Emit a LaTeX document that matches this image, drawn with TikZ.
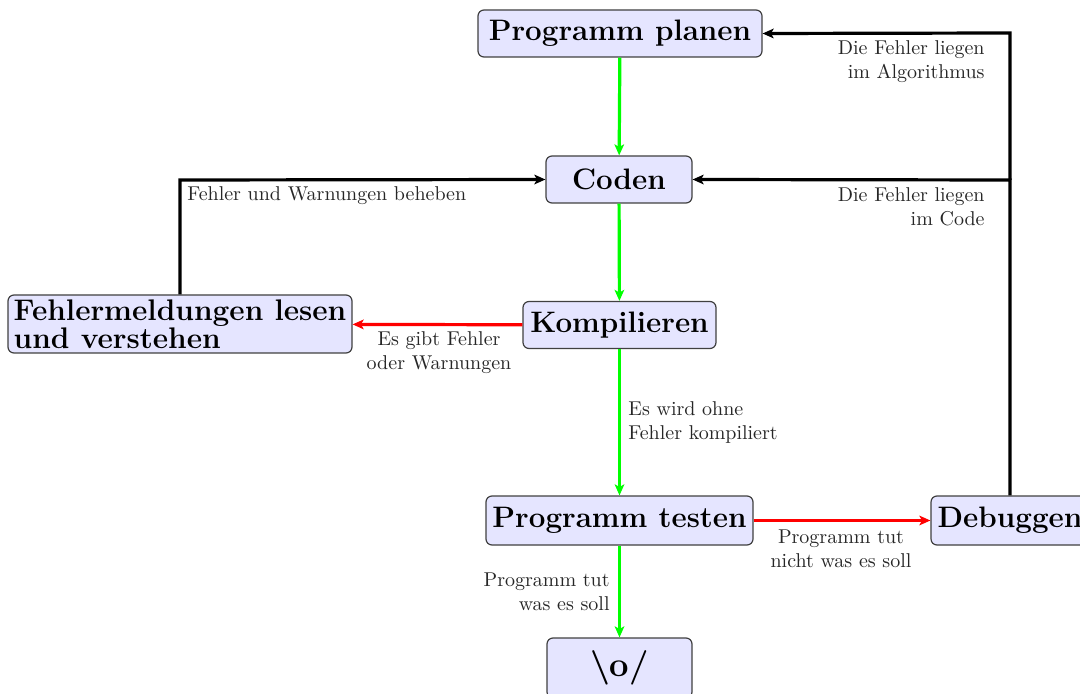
\documentclass[tikz,border=0pt]{standalone}
\usetikzlibrary{arrows.meta}
\begin{document}
\begin{tikzpicture}[x=0.5pt,y=-0.5pt,
  box/.style={draw=black!75, fill=blue!10, rounded corners=3pt, line width=0.6pt,
    font=\fontsize{14.8pt}{18pt}\selectfont\bfseries, minimum height=23.5pt, inner xsep=3pt, inner ysep=2pt},
  conn/.style={line width=1.6pt, -{Stealth[length=5.5pt,width=4.8pt,inset=1.3pt]}},
  ok/.style={conn, draw=green},
  bad/.style={conn, draw=red},
  back/.style={conn, draw=black},
  lbl/.style={font=\normalsize, text=black!85, inner sep=0pt}]
\useasboundingbox (0,0) rectangle (1080,694);
\node[box, minimum width=142pt] (plan) at (620,33.5) {Programm planen};
\node[box, minimum width=73pt] (code) at (619,179.5) {Coden};
\node[box, minimum width=96.5pt] (komp) at (619.5,325) {Kompilieren};
\node[box, minimum width=172pt, minimum height=29pt, align=left, inner xsep=1.5pt, inner ysep=1pt,
  font=\fontsize{14.9pt}{18pt}\selectfont\bfseries] (fehl) at (180,324) {Fehlermeldungen lesen\\[-4pt]und verstehen};
\node[box, minimum width=133.5pt, minimum height=24.5pt] (test) at (619.5,520.5) {Programm testen};
\node[box, minimum width=79pt, minimum height=24.5pt] (debug) at (1010,520.5) {Debuggen};
\node[box, minimum width=72.5pt, minimum height=30pt, font=\LARGE\bfseries, inner ysep=1pt] (yay) at (619.5,668) {\textbackslash o/};

\coordinate (c1) at (180,180);
\coordinate (c2) at (1010,180);
\coordinate (c3) at (1010,33);

\draw[ok] (plan) -- (code);
\draw[ok] (code) -- (komp);
\draw[bad] (komp) -- (fehl);
\draw[back] (fehl.north -| c1) -- (c1) -- (code.west);
\draw[ok] (komp) -- (test);
\draw[bad] (test) -- (debug);
\draw[ok] (test) -- (yay);
\draw[back] (debug.north -| c2) -- (c2) -- (code.east);
\draw[back] (c2) -- (c3) -- (plan.east);

\node[lbl, align=center] (l1) at (439,353) {Es gibt Fehler\\oder Warnungen};
\node[lbl, anchor=west] (l2) at (187,196) {Fehler und Warnungen beheben};
\node[lbl, align=left, anchor=west] (l3) at (628,422) {Es wird ohne\\Fehler kompiliert};
\node[lbl, align=center] (l4) at (841,549) {Programm tut\\nicht was es soll};
\node[lbl, align=right, anchor=east] (l5) at (610,592) {Programm tut\\was es soll};
\node[lbl, align=right, anchor=east] (l6) at (985,207) {Die Fehler liegen\\im Code};
\node[lbl, align=right, anchor=east] (l7) at (985,62) {Die Fehler liegen\\im Algorithmus};
\end{tikzpicture}
\end{document}
